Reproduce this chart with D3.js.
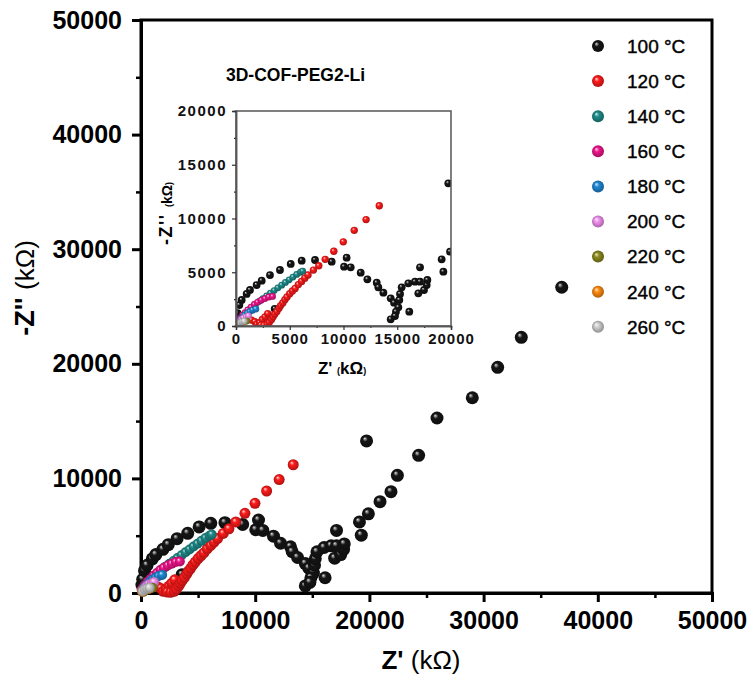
<!DOCTYPE html>
<html>
<head>
<meta charset="utf-8">
<script src="https://cdn.jsdelivr.net/npm/d3@7"></script>
<style>
body{margin:0;background:#fff;}
text{font-family:"Liberation Sans",Arial,sans-serif;}
</style>
</head>
<body>
<div id="content"></div>
<script>
//data, [Z', -Z''] in kOhm
var temps = ["100 °C","120 °C","140 °C","160 °C","180 °C","200 °C","220 °C","240 °C","260 °C"];
var xTicks = [0,10000,20000,30000,40000,50000];
var yTicks = [0,10000,20000,30000,40000,50000];
var insetTicks = [0,5000,10000,15000,20000];

var z100 = [[80,700],[150,1200],[310,1950],[530,2420],[990,2980],[1300,3350],[1920,3810],[2390,4220],[3160,4740],[4090,5210],[5090,5770],[6110,6080],[7350,6140],[8900,5980],[10290,6360],[10050,5520],[10670,5460],[11600,4960],[12220,4340],[13090,4030],[13240,3600],[13710,3100],[14390,2570],[14700,2170],[15100,1740],[14880,1330],[14390,620],[14790,930],[15190,2420],[15260,2980],[15410,3600],[16030,3970],[16650,4120],[16120,1330],[17120,4120],[17120,5460],[16960,3040],[17490,3350],[17740,3810],[17800,4280],[19130,6200],[19290,5050],[19910,6910],[19750,13270],[20930,7970],[21890,8840],[22450,10270],[24310,12010],[25920,15270],[29010,17040],[31230,19690],[33300,22310],[36840,26680],[3600,1600]];
var z120 = [[100,300],[300,550],[550,700],[850,750],[1150,700],[1450,550],[1750,400],[1950,150],[2200,300],[2450,600],[2700,850],[2950,1150],[2300,80],[2600,60],[2900,150],[3100,350],[3300,600],[3450,850],[3600,1100],[3800,1350],[4000,1650],[4150,1900],[4350,2150],[4550,2450],[4750,2700],[5000,3000],[5250,3250],[5500,3500],[5800,3850],[6100,4150],[6400,4450],[6700,4750],[7200,5200],[7700,5600],[8300,6200],[9100,6950],[9980,7830],[11000,8900],[12100,9900],[13330,11190]];
var z140 = [[200,300],[400,650],[650,950],[900,1200],[1200,1500],[1500,1750],[1800,2000],[2150,2300],[2500,2550],[2850,2800],[3200,3050],[3550,3300],[3900,3550],[4250,3800],[4600,4050],[4950,4300],[5300,4550],[5650,4800],[6000,5000],[6200,5100]];
var z160 = [[150,400],[350,700],[600,1000],[850,1250],[1100,1500],[1400,1750],[1700,2000],[2000,2200],[2350,2400],[2700,2550],[3050,2700],[3400,2750]];
var z180 = [[100,250],[300,500],[550,750],[800,1000],[1050,1200],[1300,1350],[1550,1480],[1850,1580]];
var z200 = [[100,200],[300,400],[500,600],[700,750],[950,850],[1150,950]];
var z220 = [[200,100],[400,250],[600,350],[800,420],[1000,460]];
var z240 = [[100,100],[300,220],[500,300],[700,350]];
var z260 = [[150,150],[350,300],[550,400],[750,450]];

var series = [z100,z120,z140,z160,z180,z200,z220,z240,z260];
var colors = ["#151515","#ff1a1a","#1f8c8a","#f0158c","#1e88d6","#f290f0","#8a8a1e","#ff8a10","#cfcfcf"];
var mainR = [6.5,5.5,5,5,5,5,5,5,5];
var insetR = [3.9,3.7,3.4,3.4,3.4,3.4,3.4,3.4,3.4];

var width = 753, height = 695;
var main = {'left':141,'right':712,'top':20,'bottom':593};
var inset = {'left':236,'right':451,'top':111,'bottom':326};

var svg = d3.select("#content").append("svg")
	.attr("width", width)
	.attr("height", height);

var defs = svg.append("defs");
colors.forEach(function(c,i){
	var g = defs.append("radialGradient")
		.attr("id","ball"+i)
		.attr("cx","50%").attr("cy","50%").attr("r","55%")
		.attr("fx","35%").attr("fy","30%");
	g.append("stop").attr("offset","0%").attr("stop-color",d3.interpolateRgb(c,"#fff")(0.85));
	g.append("stop").attr("offset","35%").attr("stop-color",c);
	g.append("stop").attr("offset","100%").attr("stop-color",d3.interpolateRgb(c,"#000")(0.35));
});
defs.append("clipPath").attr("id","insetClip")
	.append("rect")
	.attr("x",inset.left).attr("y",inset.top)
	.attr("width",inset.right-inset.left).attr("height",inset.bottom-inset.top);

function styleAxis(g, w){
	g.select(".domain").attr("stroke","#000").attr("stroke-width",3);
	g.selectAll(".tick line").attr("stroke","#000").attr("stroke-width",w);
	g.selectAll("text").attr("fill","#000").style("font-family","'Liberation Sans',Arial,sans-serif");
}
function styleInset(g){
	g.select(".domain").attr("stroke","#555").attr("stroke-width",1.5);
	g.selectAll(".tick line").attr("stroke","#333").attr("stroke-width",1.2);
	g.selectAll("text").attr("fill","#111").style("font-family","'Liberation Sans',Arial,sans-serif");
}

//main plot
var x = d3.scaleLinear().domain([0,50000]).range([main.left,main.right]);
var y = d3.scaleLinear().domain([0,50000]).range([main.bottom,main.top]);

svg.append("rect")
	.attr("x",main.left).attr("y",main.top)
	.attr("width",main.right-main.left).attr("height",main.bottom-main.top)
	.attr("fill","none").attr("stroke","#000").attr("stroke-width",3);

var minor = d3.range(5000,50000,10000);
svg.append("g").attr("transform","translate(0,"+main.bottom+")")
	.call(d3.axisBottom(x).tickValues(minor).tickSize(5).tickFormat(""))
	.call(styleAxis, 2.5);
svg.append("g").attr("transform","translate("+main.left+",0)")
	.call(d3.axisLeft(y).tickValues(minor).tickSize(5).tickFormat(""))
	.call(styleAxis, 2.5);

var xa = svg.append("g").attr("transform","translate(0,"+main.bottom+")")
	.call(d3.axisBottom(x).tickValues(xTicks).tickSize(9).tickPadding(9).tickFormat(d3.format("d")))
	.call(styleAxis, 3);
xa.selectAll("text").attr("font-size",25).attr("font-weight","bold");

var ya = svg.append("g").attr("transform","translate("+main.left+",0)")
	.call(d3.axisLeft(y).tickValues(yTicks).tickSize(9).tickPadding(10).tickFormat(d3.format("d")))
	.call(styleAxis, 3);
ya.selectAll("text").attr("font-size",25).attr("font-weight","bold");

var xt = svg.append("text")
	.attr("x",421).attr("y",669)
	.attr("text-anchor","middle")
	.attr("font-size",26).attr("font-weight","bold")
	.text("Z'  ");
xt.append("tspan").attr("font-weight","normal").text("(kΩ)");

var yt = svg.append("text")
	.attr("transform","translate(34,288) rotate(-90)")
	.attr("text-anchor","middle")
	.attr("font-size",27).attr("font-weight","bold")
	.text("-Z''   ");
yt.append("tspan").attr("font-weight","normal").attr("font-size",26).text("(kΩ)");

var mainPts = svg.append("g");
series.forEach(function(s,i){
	mainPts.selectAll(".m"+i)
		.data(s)
		.enter()
		.append("circle")
		.attr("cx",function(d){return x(d[0]);})
		.attr("cy",function(d){return y(d[1]);})
		.attr("r",mainR[i])
		.attr("fill","url(#ball"+i+")");
});

//legend
var leg = svg.append("g").selectAll("g")
	.data(temps)
	.enter()
	.append("g")
	.attr("transform",function(d,i){return "translate(598,"+(46+i*35.1)+")";});
leg.append("circle").attr("r",6).attr("fill",function(d,i){return "url(#ball"+i+")";});
leg.append("text").attr("x",29).attr("dy","0.36em")
	.attr("font-size",19).attr("fill","#000")
	.attr("stroke","#000").attr("stroke-width",0.4)
	.text(function(d){return d;});

//inset
var ix = d3.scaleLinear().domain([0,20000]).range([inset.left,inset.right]);
var iy = d3.scaleLinear().domain([0,20000]).range([inset.bottom,inset.top]);

svg.append("rect")
	.attr("x",inset.left).attr("y",inset.top)
	.attr("width",inset.right-inset.left).attr("height",inset.bottom-inset.top)
	.attr("fill","#fff");

var insetPts = svg.append("g").attr("clip-path","url(#insetClip)");
series.forEach(function(s,i){
	insetPts.selectAll(".n"+i)
		.data(s)
		.enter()
		.append("circle")
		.attr("cx",function(d){return ix(d[0]);})
		.attr("cy",function(d){return iy(d[1]);})
		.attr("r",insetR[i])
		.attr("fill","url(#ball"+i+")");
});

svg.append("rect")
	.attr("x",inset.left).attr("y",inset.top)
	.attr("width",inset.right-inset.left).attr("height",inset.bottom-inset.top)
	.attr("fill","none").attr("stroke","#555").attr("stroke-width",1.5);

var iminor = [2500,7500,12500,17500];
svg.append("g").attr("transform","translate(0,"+inset.bottom+")")
	.call(d3.axisBottom(ix).tickValues(iminor).tickSize(2).tickFormat(""))
	.call(styleInset);
svg.append("g").attr("transform","translate("+inset.left+",0)")
	.call(d3.axisLeft(iy).tickValues(iminor).tickSize(2).tickFormat(""))
	.call(styleInset);
var ixa = svg.append("g").attr("transform","translate(0,"+inset.bottom+")")
	.call(d3.axisBottom(ix).tickValues(insetTicks).tickSize(4).tickPadding(3).tickFormat(d3.format("d")))
	.call(styleInset);
ixa.selectAll("text").attr("font-size",15).attr("font-weight","bold").attr("letter-spacing",1);
var iya = svg.append("g").attr("transform","translate("+inset.left+",0)")
	.call(d3.axisLeft(iy).tickValues(insetTicks).tickSize(4).tickPadding(5).tickFormat(d3.format("d")))
	.call(styleInset);
iya.selectAll("text").attr("font-size",15).attr("font-weight","bold").attr("letter-spacing",1.5);

var ixt = svg.append("text")
	.attr("x",342).attr("y",374)
	.attr("text-anchor","middle")
	.attr("font-size",17).attr("font-weight","bold")
	.text("Z'  ");
ixt.append("tspan").attr("font-size",9).text("(");
ixt.append("tspan").text("kΩ");
ixt.append("tspan").attr("font-size",9).text(")");

var iyt = svg.append("text")
	.attr("transform","translate(172,245) rotate(-90)")
	.attr("font-size",18).attr("font-weight","bold")
	.attr("letter-spacing",1.5)
	.text("-Z''  ");
iyt.append("tspan").attr("font-size",9).attr("letter-spacing",0).text("(");
iyt.append("tspan").attr("font-size",14).attr("letter-spacing",0).text("kΩ");
iyt.append("tspan").attr("font-size",9).attr("letter-spacing",0).text(")");

svg.append("text")
	.attr("x",226).attr("y",81)
	.attr("font-size",17.5).attr("font-weight","bold")
	.text("3D-COF-PEG2-Li");
</script>
</body>
</html>
